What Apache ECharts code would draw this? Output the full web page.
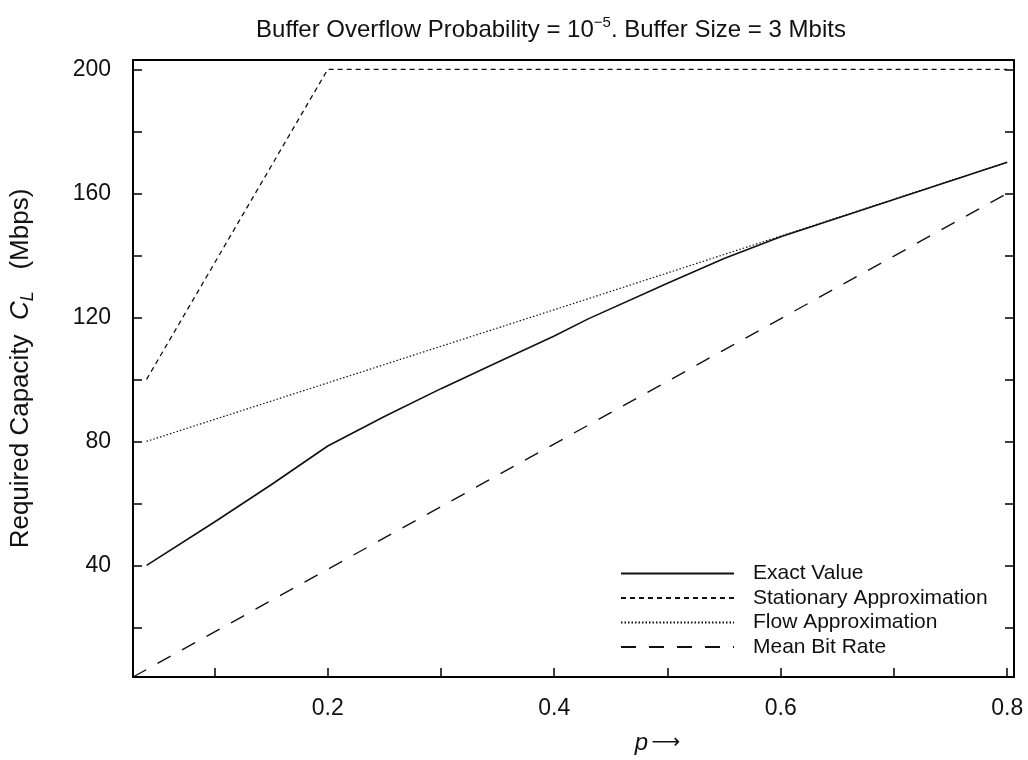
<!DOCTYPE html>
<html>
<head>
<meta charset="utf-8">
<script src="https://cdn.jsdelivr.net/npm/echarts@6/dist/echarts.min.js"></script>
<style>
  html, body { margin: 0; padding: 0; background: #ffffff; }
  #chart { width: 1028px; height: 760px; }
</style>
</head>
<body>
<div id="chart"></div>
<script>
// ---- data ----
const seriesNames = ['Exact Value', 'Stationary Approximation', 'Flow Approximation', 'Mean Bit Rate'];
const exactValue = [[0.04, 40], [0.1, 54], [0.15, 66], [0.2, 78.5], [0.25, 88], [0.3, 97], [0.35, 105.5], [0.4, 114], [0.43, 119.5], [0.5, 131], [0.55, 139], [0.6, 146], [0.7, 158], [0.8, 170]];
const stationaryApprox = [[0.04, 100], [0.2, 200], [0.8, 200]];
const flowApprox = [[0.04, 80], [0.43, 126], [0.8, 170]];
const meanBitRate = [[0.028, 4], [0.8, 160]];
const xTickValues = [0.1, 0.2, 0.3, 0.4, 0.5, 0.6, 0.7, 0.8];
const xLabelValues = [0.2, 0.4, 0.6, 0.8];
const yTickValues = [20, 40, 60, 80, 100, 120, 140, 160, 180, 200];
const yLabelValues = [40, 80, 120, 160, 200];

const FONT = '"Liberation Sans", Arial, Helvetica, sans-serif';
const chart = echarts.init(document.getElementById('chart'), null, { renderer: 'canvas' });

const axisLine = { show: true, lineStyle: { color: '#000', width: 2 } };

const option = {
  backgroundColor: '#ffffff',
  animation: false,
  title: {
    text: '{t|Buffer Overflow Probability = 10}{s|−5}{t|. Buffer Size = 3 Mbits}',
    left: 546,
    textAlign: 'center',
    top: 10,
    textStyle: {
      fontWeight: 'normal',
      rich: {
        t: { fontFamily: FONT, fontSize: 24, fontWeight: 'normal', color: '#111', lineHeight: 30 },
        s: { fontFamily: FONT, fontSize: 15, fontWeight: 'normal', color: '#111', lineHeight: 15, verticalAlign: 'top' }
      }
    }
  },
  grid: { left: 127, right: 14, top: 60, bottom: 77, containLabel: false },
  legend: {
    orient: 'vertical',
    left: 620,
    top: 563,
    padding: 0,
    itemWidth: 113,
    itemHeight: 14,
    itemGap: 3.5,
    data: seriesNames,
    itemStyle: { opacity: 0 },
    textStyle: { fontFamily: FONT, fontSize: 21, color: '#111', lineHeight: 21, padding: [0, 0, 0, 14] }
  },
  xAxis: [{
    type: 'value',
    position: 'bottom',
    min: 0.028,
    max: 0.806,
    axisLine: axisLine,
    splitLine: { show: false },
    axisTick: { show: true, inside: true, length: 9, customValues: xTickValues, lineStyle: { color: '#000', width: 1.5 } },
    axisLabel: { show: true, customValues: xLabelValues, margin: 20, fontFamily: FONT, fontSize: 23, color: '#111',
      formatter: v => v.toFixed(1) },
    name: '{i|p} {a|⟶}',
    nameLocation: 'middle',
    nameGap: 54,
    nameTextStyle: {
      padding: [0, 0, 0, 168],
      rich: {
        i: { fontFamily: FONT, fontSize: 24, fontStyle: 'italic', color: '#111' },
        a: { fontFamily: '"DejaVu Sans", sans-serif', fontSize: 20, color: '#111' }
      }
    }
  }, {
    type: 'value',
    position: 'top',
    min: 0.028,
    max: 0.806,
    axisLine: axisLine,
    splitLine: { show: false },
    axisTick: { show: false },
    axisLabel: { show: false }
  }],
  yAxis: [{
    type: 'value',
    position: 'left',
    min: 4,
    max: 203,
    axisLine: axisLine,
    splitLine: { show: false },
    axisTick: { show: true, inside: true, length: 9, customValues: yTickValues, lineStyle: { color: '#000', width: 1.5 } },
    axisLabel: { show: true, customValues: yLabelValues, margin: 22, fontFamily: FONT, fontSize: 23, color: '#111' },
    name: '{a|Required Capacity  }{i|C}{s|L}{a|   (Mbps)}',
    nameLocation: 'middle',
    nameRotate: 90,
    nameGap: 96,
    nameTextStyle: {
      rich: {
        a: { fontFamily: FONT, fontSize: 26, color: '#111', lineHeight: 32 },
        i: { fontFamily: FONT, fontSize: 26, fontStyle: 'italic', color: '#111', lineHeight: 32 },
        s: { fontFamily: FONT, fontSize: 18, fontStyle: 'italic', color: '#111', lineHeight: 18, verticalAlign: 'bottom' }
      }
    }
  }, {
    type: 'value',
    position: 'right',
    min: 4,
    max: 203,
    axisLine: axisLine,
    splitLine: { show: false },
    axisTick: { show: true, inside: true, length: 9, customValues: yTickValues, lineStyle: { color: '#000', width: 1.5 } },
    axisLabel: { show: false }
  }],
  series: [
    { name: seriesNames[0], type: 'line', data: exactValue, symbol: 'none', smooth: false,
      lineStyle: { color: '#111', width: 1.6, type: 'solid' }, itemStyle: { color: '#111' } },
    { name: seriesNames[1], type: 'line', data: stationaryApprox, symbol: 'none',
      lineStyle: { color: '#111', width: 1.3, type: [5, 4] }, itemStyle: { color: '#111' } },
    { name: seriesNames[2], type: 'line', data: flowApprox, symbol: 'none',
      lineStyle: { color: '#111', width: 1.2, type: [1.5, 2] }, itemStyle: { color: '#111' } },
    { name: seriesNames[3], type: 'line', data: meanBitRate, symbol: 'none',
      lineStyle: { color: '#111', width: 1.4, type: [15, 13] }, itemStyle: { color: '#111' } }
  ]
};
chart.setOption(option);
</script>
</body>
</html>
